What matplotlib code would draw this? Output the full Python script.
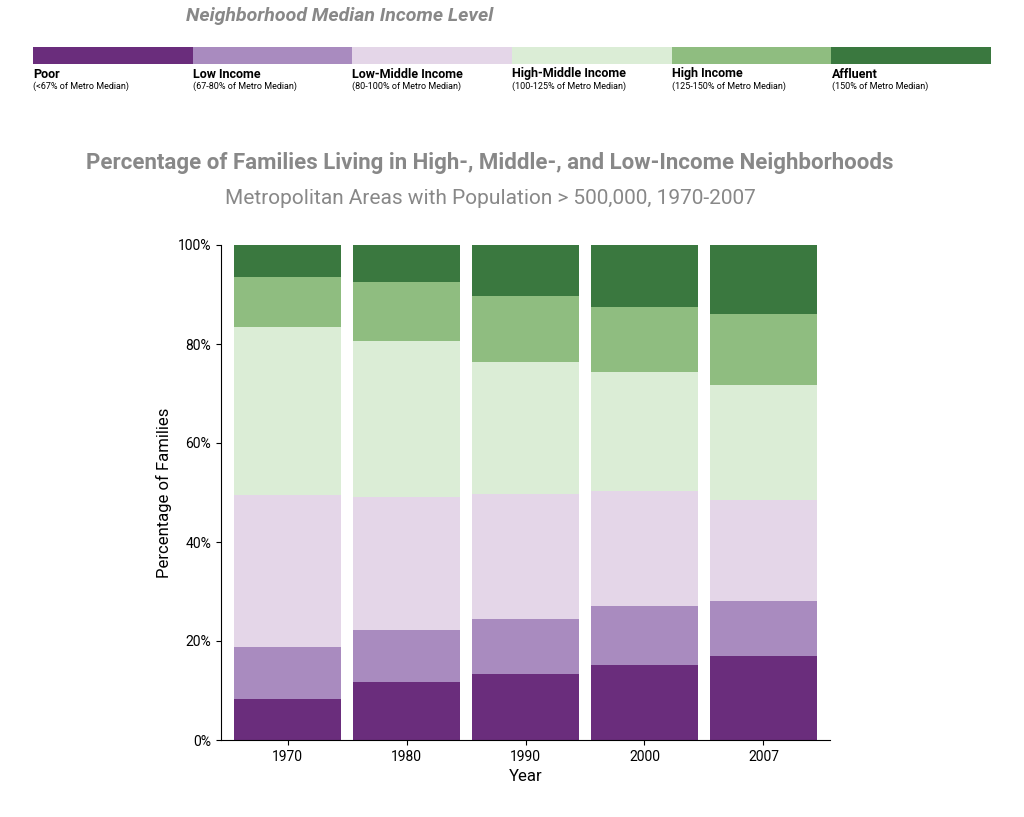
import matplotlib.pyplot as plt
import numpy as np

plt.rcParams["font.family"] = ["Roboto", "DejaVu Sans"]

years = ["1970", "1980", "1990", "2000", "2007"]
categories = ["Poor", "Low Income", "Low-Middle Income", "High-Middle Income", "High Income", "Affluent"]
sublabels = ["(<67% of Metro Median)", "(67-80% of Metro Median)", "(80-100% of Metro Median)",
             "(100-125% of Metro Median)", "(125-150% of Metro Median)", "(150% of Metro Median)"]
colors = ["#6a2d7c", "#a98bbf", "#e4d6e8", "#dbedd6", "#8fbd80", "#3a783f"]

poor = [8.3, 11.7, 13.3, 15.2, 17.0]
low = [10.5, 10.5, 11.1, 11.9, 11.1]
low_mid = [30.7, 26.9, 25.3, 23.2, 20.4]
high_mid = [33.9, 31.5, 26.7, 24.0, 23.2]
high = [10.1, 11.9, 13.3, 13.2, 14.4]
affluent = [6.5, 7.5, 10.3, 12.5, 13.9]
series = [poor, low, low_mid, high_mid, high, affluent]

fig = plt.figure(figsize=(10.24, 8.17), dpi=100)
W, H = 1024, 817

# legend strip
fig.text(340 / W, 1 - 16 / H, "Neighborhood Median Income Level", fontsize=14, fontweight="bold",
         style="italic", color="#888888", ha="center", va="center")
lax = fig.add_axes([33 / W, 1 - 64 / H, 958 / W, 17 / H])
for i, (c, name, sub) in enumerate(zip(colors, categories, sublabels)):
    lax.barh(0, 1, left=i, height=1, color=c)
    fig.text((33 + i * 159.7) / W, 1 - 74 / H, name, fontsize=9, fontweight="bold", va="center")
    fig.text((33 + i * 159.7) / W, 1 - 86 / H, sub, fontsize=6.5, va="center")
lax.set_xlim(0, 6)
lax.set_ylim(-0.5, 0.5)
lax.axis("off")

fig.text(490 / W, 1 - 163 / H, "Percentage of Families Living in High-, Middle-, and Low-Income Neighborhoods",
         fontsize=16, fontweight="bold", color="#888888", ha="center", va="center")
fig.text(490 / W, 1 - 199 / H, "Metropolitan Areas with Population > 500,000, 1970-2007",
         fontsize=15, color="#888888", ha="center", va="center")

ax = fig.add_axes([221 / W, 1 - 740 / H, 609 / W, 495 / H])
x = np.arange(len(years))
bottom = np.zeros(len(years))
for vals, c in zip(series, colors):
    ax.bar(x, vals, bottom=bottom, width=0.9, color=c)
    bottom += np.array(vals)

ax.set_xlim(-0.56, 4.56)
ax.set_ylim(0, 100)
ax.set_xticks(x)
ax.set_xticklabels(years, fontsize=10)
ax.set_yticks([0, 20, 40, 60, 80, 100])
ax.set_yticklabels([f"{v}%" for v in [0, 20, 40, 60, 80, 100]], fontsize=10)
ax.spines["top"].set_visible(False)
ax.spines["right"].set_visible(False)
ax.spines["left"].set_position(("outward", 0))
ax.set_xlabel("Year", fontsize=12)
ax.set_ylabel("Percentage of Families", fontsize=12)

fig.savefig("out.png", dpi=100)
